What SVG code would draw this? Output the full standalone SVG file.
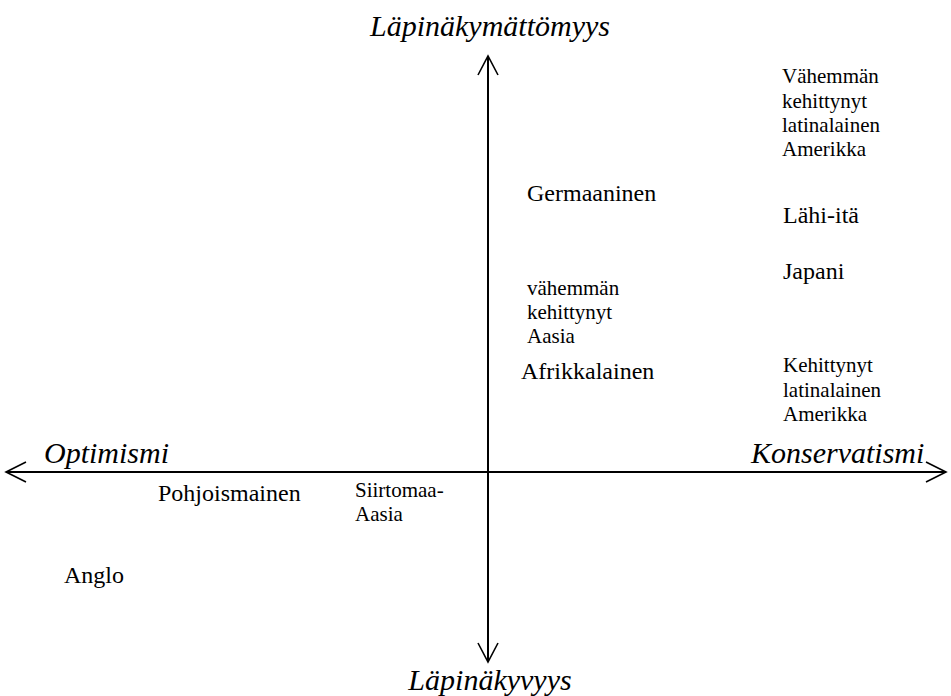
<svg xmlns="http://www.w3.org/2000/svg" width="951" height="696" viewBox="0 0 951 696">
  <style>
    .axis { stroke: #000; stroke-width: 2; fill: none; }
    .head { stroke: #000; stroke-width: 1.6; fill: none; }
    .pole { font-style: italic; font-size: 30px; }
    .big { font-size: 24px; }
    .small { font-size: 21px; }
  </style>
  <rect width="951" height="696" fill="#fff"/>

  <!-- axes -->
  <g id="connectors">
    <line class="axis" x1="488" y1="56" x2="488" y2="662"/>
    <line class="axis" x1="6" y1="472" x2="946" y2="472"/>
    <polyline class="head" points="478,75 488,56 498,75"/>
    <polyline class="head" points="478,643 488,662 498,643"/>
    <polyline class="head" points="26,462 6,472 26,482"/>
    <polyline class="head" points="926,462 946,472 926,482"/>
  </g>

  <g font-family="Liberation Serif, Times New Roman, Times, serif" fill="#000">
    <!-- axis pole labels -->
    <g id="pole-top"><text class="pole" x="490" y="36" text-anchor="middle">Läpinäkymättömyys</text></g>
    <g id="pole-bottom"><text class="pole" x="490" y="690" text-anchor="middle">Läpinäkyvyys</text></g>
    <g id="pole-left"><text class="pole" x="44" y="463">Optimismi</text></g>
    <g id="pole-right"><text class="pole" x="751" y="463">Konservatismi</text></g>

    <!-- clusters -->
    <g id="latin-america-less">
      <text class="small" x="782" y="83">Vähemmän</text>
      <text class="small" x="782" y="108">kehittynyt</text>
      <text class="small" x="782" y="132">latinalainen</text>
      <text class="small" x="782" y="156">Amerikka</text>
    </g>
    <g id="germanic"><text class="big" x="527" y="201">Germaaninen</text></g>
    <g id="middle-east"><text class="big" x="783" y="223">Lähi-itä</text></g>
    <g id="japan"><text class="big" x="783" y="279">Japani</text></g>
    <g id="asia-less">
      <text class="small" x="527" y="295">vähemmän</text>
      <text class="small" x="527" y="319">kehittynyt</text>
      <text class="small" x="527" y="343">Aasia</text>
    </g>
    <g id="african"><text class="big" x="521" y="379">Afrikkalainen</text></g>
    <g id="latin-america">
      <text class="small" x="783" y="372">Kehittynyt</text>
      <text class="small" x="783" y="397">latinalainen</text>
      <text class="small" x="783" y="421">Amerikka</text>
    </g>
    <g id="nordic"><text class="big" x="158" y="501">Pohjoismainen</text></g>
    <g id="colonial-asia">
      <text class="small" x="355" y="497">Siirtomaa-</text>
      <text class="small" x="355" y="521">Aasia</text>
    </g>
    <g id="anglo"><text class="big" x="64" y="583">Anglo</text></g>
  </g>
</svg>
